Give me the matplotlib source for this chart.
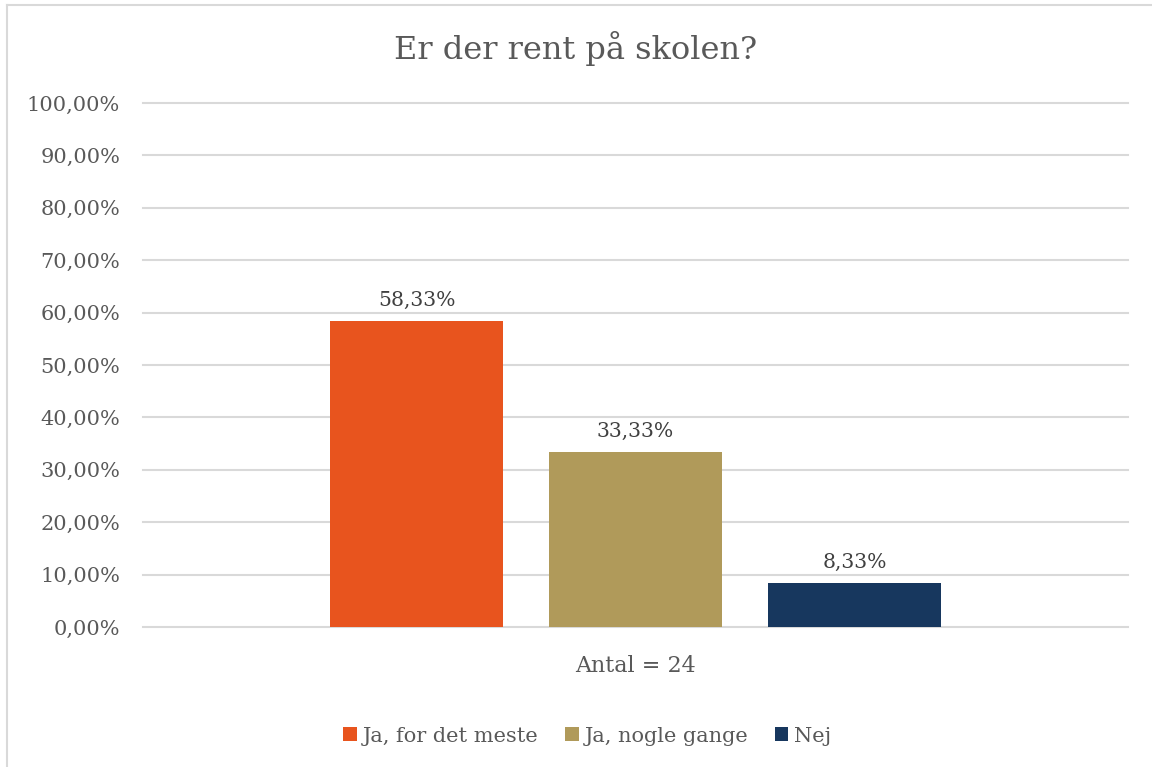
import matplotlib.pyplot as plt
from matplotlib.lines import Line2D

# survey answers, share of respondents
answers = ['Ja, for det meste', 'Ja, nogle gange', 'Nej']
shares = [58.33, 33.33, 8.33]
labels = ['58,33%', '33,33%', '8,33%']
colors = ['#E8541E', '#B09A5A', '#17375E']
yticks = [0, 10, 20, 30, 40, 50, 60, 70, 80, 90, 100]

plt.rcParams['font.family'] = ['DejaVu Serif']
txt = '#595959'

fig = plt.figure(figsize=(11.52, 7.67), dpi=100)
ax = fig.add_axes([143/1152, 1-627/767, 985/1152, 524/767])

width = 173/985
step = 219/985
for i, (name, val, col) in enumerate(zip(answers, shares, colors)):
    x = (i - 1) * step
    ax.bar(x, val, width=width, color=col, label=name, zorder=3)
    ax.text(x, val + 2.2, labels[i], ha='center', va='bottom',
            fontsize=14.7, color='#404040')

ax.set_xlim(-0.5, 0.5)
ax.set_ylim(0, 100)
ax.set_yticks(yticks)
ax.set_yticklabels([f'{v},00%' for v in yticks], fontsize=15, color=txt)
ax.set_xticks([])
ax.grid(axis='y', color='#D9D9D9', linewidth=1.5, zorder=0)
for gl in ax.get_ygridlines():
    gl.set_clip_on(False)
for s in ax.spines.values():
    s.set_visible(False)
ax.tick_params(axis='y', length=0, pad=16.5)
ax.set_xlabel('Antal = 24', fontsize=16, color=txt, labelpad=20)

fig.text(0.5, 1-48/767, 'Er der rent på skolen?', ha='center', va='center',
         fontsize=23, color=txt)

fig.legend(loc='center', bbox_to_anchor=(587.5/1152, 1-736/767), ncol=3,
           frameon=False, fontsize=15, labelcolor=txt, handlelength=0.65,
           handleheight=0.65, handletextpad=0.3, columnspacing=1.25)

# chart frame
fig.add_artist(Line2D([7/1152, 1], [1-5/767, 1-5/767], color='#D9D9D9', lw=1.5))
fig.add_artist(Line2D([7/1152, 7/1152], [0, 1-5/767], color='#D9D9D9', lw=1.5))

fig.savefig('out.png', dpi=100)
